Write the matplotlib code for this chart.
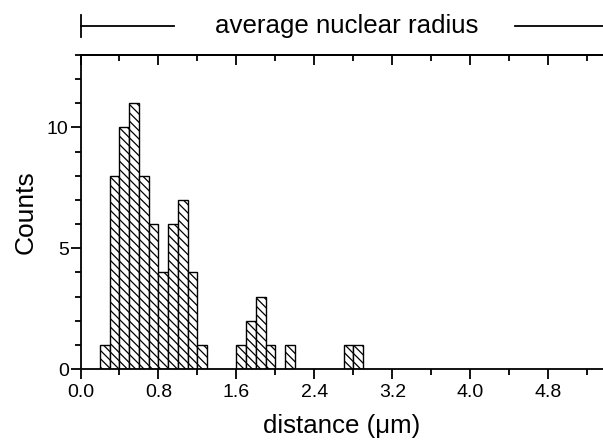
import matplotlib
matplotlib.use("Agg")
import matplotlib.pyplot as plt
from matplotlib.ticker import MultipleLocator

plt.rcParams['font.family'] = ['Liberation Sans', 'DejaVu Sans']
plt.rcParams['hatch.linewidth'] = 0.9

# Histogram of distances (bin width 0.1 µm)
bin_left = [0.2, 0.3, 0.4, 0.5, 0.6, 0.7, 0.8, 0.9, 1.0, 1.1, 1.2,
            1.6, 1.7, 1.8, 1.9, 2.1, 2.7, 2.8]
counts = [1, 8, 10, 11, 8, 6, 4, 6, 7, 4, 1,
          1, 2, 3, 1, 1, 1, 1]
bin_width = 0.1

x_major = [0.0, 0.8, 1.6, 2.4, 3.2, 4.0, 4.8]
x_labels = ["0.0", "0.8", "1.6", "2.4", "3.2", "4.0", "4.8"]
y_major = [0, 5, 10]

fig = plt.figure(figsize=(6.03, 4.42), dpi=100)
ax = fig.add_axes([0.1335, 0.165, 0.8665, 0.7106])

ax.bar(bin_left, counts, width=bin_width, align='edge', color='white',
       edgecolor='black', linewidth=1.0, hatch='\\\\\\\\')

ax.set_xlim(0, 5.36)
ax.set_ylim(0, 13)

ax.set_xticks(x_major)
ax.set_xticklabels(x_labels)
ax.xaxis.set_minor_locator(MultipleLocator(0.4))
ax.set_yticks(y_major)
ax.yaxis.set_minor_locator(MultipleLocator(1))

ax.spines['right'].set_visible(False)
for s in ('left', 'bottom', 'top'):
    ax.spines[s].set_linewidth(1.3)

ax.tick_params(axis='x', which='both', direction='out', bottom=True, top=False,
               labelsize=14, width=1.3, pad=3.5)
ax.tick_params(axis='x', which='major', length=7)
ax.tick_params(axis='x', which='minor', length=4)
ax.tick_params(axis='y', which='both', direction='out', right=False,
               labelsize=14, width=1.3, pad=1.5)
ax.tick_params(axis='y', which='major', length=7)
ax.tick_params(axis='y', which='minor', length=4)

# Inward ticks along the top spine
top = ax.secondary_xaxis('top')
top.set_xticks(x_major)
top.xaxis.set_minor_locator(MultipleLocator(0.4))
top.tick_params(axis='x', which='both', direction='in', labeltop=False, width=1.3)
top.tick_params(axis='x', which='major', length=7)
top.tick_params(axis='x', which='minor', length=4)
top.spines['top'].set_linewidth(1.3)

ax.set_xlabel('distance (μm)', fontsize=18.6, labelpad=9.5)
ax.set_ylabel('Counts', fontsize=19, labelpad=7)

# Range marker for the average nuclear radius
y_ann = 14.2
ax.plot([0, 0.955], [y_ann, y_ann], color='black', lw=1.3, clip_on=False)
ax.plot([4.46, 5.36], [y_ann, y_ann], color='black', lw=1.3, clip_on=False)
ax.plot([0, 0], [y_ann - 0.45, y_ann + 0.45], color='black', lw=1.3, clip_on=False)
ax.text(2.73, y_ann, 'average nuclear radius', ha='center', va='center',
        fontsize=18.6)

fig.savefig('out.png', dpi=100)
